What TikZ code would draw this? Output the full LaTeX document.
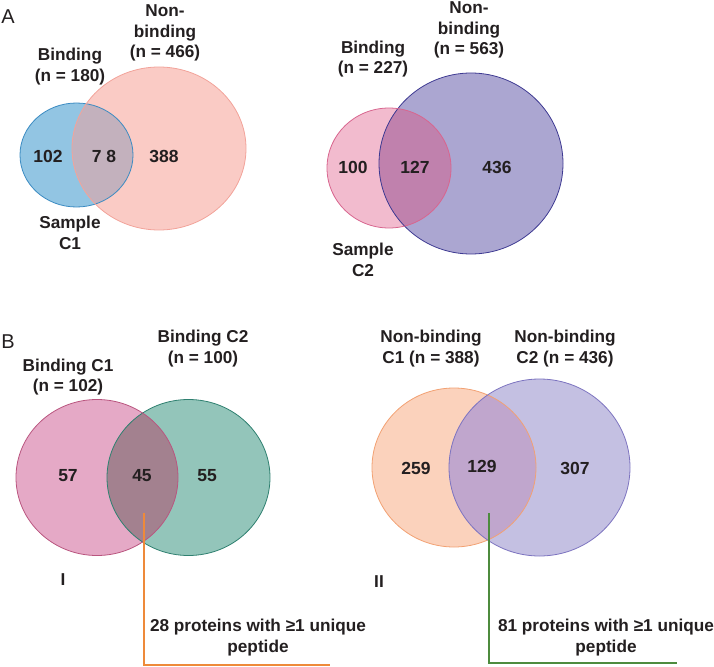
\documentclass[tikz,border=0pt]{standalone}
\usepackage{fontspec}
\setmainfont{Liberation Sans}
\usetikzlibrary{positioning}
\definecolor{txt}{HTML}{231F20}
\definecolor{blueF}{HTML}{92C5E3}\definecolor{blueS}{HTML}{3B8BC2}
\definecolor{pinkF}{HTML}{FACBC5}\definecolor{pinkS}{HTML}{F2A39A}
\definecolor{ovA}{HTML}{C3B1BD}
\definecolor{rosF}{HTML}{F2BBCE}\definecolor{rosS}{HTML}{D8668F}
\definecolor{purF}{HTML}{ABA6D1}\definecolor{purS}{HTML}{3E3A92}
\definecolor{ovB}{HTML}{C081AD}
\definecolor{magF}{HTML}{E5A9C6}\definecolor{magS}{HTML}{B9557F}
\definecolor{grnF}{HTML}{93C5BA}\definecolor{grnS}{HTML}{2F8070}
\definecolor{ovC}{HTML}{A3818F}
\definecolor{orF}{HTML}{FBD2BC}\definecolor{orS}{HTML}{F2A173}
\definecolor{lavF}{HTML}{C4C0E2}\definecolor{lavS}{HTML}{7D74C0}
\definecolor{ovD}{HTML}{C0A6CD}
\definecolor{lineO}{HTML}{EE8A3A}\definecolor{lineG}{HTML}{4D8B3E}
\tikzset{
  lbl/.style={text=txt,font=\fontsize{17.2}{20.5}\selectfont\bfseries,align=center,inner sep=0pt},
  num/.style={text=txt,font=\fontsize{17.5}{20}\selectfont\bfseries,inner sep=0pt},
  panel/.style={text=txt,font=\fontsize{20}{22}\selectfont,inner sep=0pt},
  callout/.style={line width=2.6pt},
}
\newcommand{\venn}[9]{%
  \fill[#7] #1 ellipse[x radius=#2,y radius=#3];
  \fill[#8] #4 ellipse[x radius=#5,y radius=#6];
  \begin{scope}
    \clip #1 ellipse[x radius=#2,y radius=#3];
    \fill[#9] #4 ellipse[x radius=#5,y radius=#6];
  \end{scope}}
\begin{document}
\begin{tikzpicture}[x=1pt,y=-1pt]
\useasboundingbox (0,0) rectangle (714,666);
% ---------- A left
\venn{(76.5,155)}{56.5}{52}{(159,148.5)}{87}{81.5}{blueF}{pinkF}{ovA}
\draw[blueS,line width=0.8pt] (76.5,155) ellipse[x radius=56.5,y radius=52];
\draw[pinkS,line width=0.8pt] (159,148.5) ellipse[x radius=87,y radius=81.5];
% ---------- A right
\venn{(389,168)}{62}{60}{(471,163.5)}{92}{90.5}{rosF}{purF}{ovB}
\draw[purS,line width=0.8pt] (471,163.5) ellipse[x radius=92,y radius=90.5];
\draw[rosS,line width=0.8pt] (389,168) ellipse[x radius=62,y radius=60];
% ---------- B I
\venn{(97,477.5)}{81}{78}{(188.5,477.5)}{81.5}{78}{magF}{grnF}{ovC}
\draw[grnS,line width=0.8pt] (188.5,477.5) ellipse[x radius=81.5,y radius=78];
\draw[magS,line width=0.8pt] (97,477.5) ellipse[x radius=81,y radius=78];
% ---------- B II
\venn{(454,467.5)}{82}{79.5}{(539.5,467.5)}{90.5}{88.5}{orF}{lavF}{ovD}
\draw[orS,line width=0.8pt] (454,467.5) ellipse[x radius=82,y radius=79.5];
\draw[lavS,line width=0.8pt] (539.5,467.5) ellipse[x radius=90.5,y radius=88.5];

% ---------- texts A
\node[panel] (pA) at (8,17) {A};
\node[lbl] (bA1) at (70,66.5) {Binding\\(n = 180)};
\node[lbl] (nA1) at (165,33) {Non-\\binding\\(n = 466)};
\node[num] (a102) at (48,156) {102};
\node[num] (a78) at (104,156) {7 8};
\node[num] (a388) at (164,156) {388};
\node[lbl] (sC1) at (70,233) {Sample\\C1};
\node[lbl] (bA2) at (373,59) {Binding\\(n = 227)};
\node[lbl] (nA2) at (469,30) {Non-\\binding\\(n = 563)};
\node[num] (a100) at (353,167) {100};
\node[num] (a127) at (415,167) {127};
\node[num] (a436) at (497,167) {436};
\node[lbl] (sC2) at (363,260) {Sample\\C2};
% ---------- texts B
\node[panel] (pB) at (8,342) {B};
\node[lbl] (bc1) at (68,377) {Binding C1\\(n = 102)};
\node[lbl] (bc2) at (203,348.5) {Binding C2\\(n = 100)};
\node[num] (b57) at (68,476) {57};
\node[num] (b45) at (142,476) {45};
\node[num] (b55) at (207,476) {55};
\node[lbl] (rI) at (63,580) {I};
\node[lbl] (nc1) at (431,348.5) {Non-binding\\C1 (n = 388)};
\node[lbl] (nc2) at (565,348.5) {Non-binding\\C2 (n = 436)};
\node[num] (b259) at (416,468) {259};
\node[num] (b129) at (482,466) {129};
\node[num] (b307) at (575,468) {307};
\node[lbl] (rII) at (379,582) {II};
\node[lbl] (t28) at (258,637.5) {28 proteins with ≥1 unique\\peptide};
\node[lbl] (t81) at (606,637.5) {81 proteins with ≥1 unique\\peptide};
% ---------- callouts
\coordinate (o1) at (144,513);
\coordinate (o2) at (330,665);
\coordinate (g1) at (489,513);
\coordinate (g2) at (677,663);
\draw[callout,lineO] (o1) |- (o2);
\draw[callout,lineG] (g1) |- (g2);
\end{tikzpicture}
\end{document}
